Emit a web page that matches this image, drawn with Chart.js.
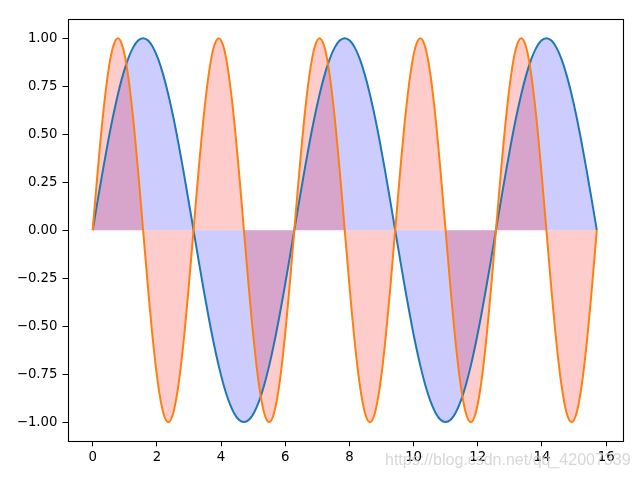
<!DOCTYPE html>
<html>
<head>
<meta charset="utf-8">
<script src="https://cdn.jsdelivr.net/npm/chart.js@4/dist/chart.umd.min.js"></script>
<style>
html,body{margin:0;padding:0;background:#fff;}
canvas{display:block;}
</style>
</head>
<body>
<canvas id="c" width="640" height="480"></canvas>
<script>
// x positions (0 .. 5π, step π/20)
const xs = [0,0.157,0.314,0.471,0.628,0.785,0.942,1.100,1.257,1.414,1.571,1.728,1.885,2.042,2.199,2.356,2.513,2.670,2.827,2.985,
3.142,3.299,3.456,3.613,3.770,3.927,4.084,4.241,4.398,4.555,4.712,4.869,5.027,5.184,5.341,5.498,5.655,5.812,5.969,6.126,
6.283,6.440,6.597,6.754,6.912,7.069,7.226,7.383,7.540,7.697,7.854,8.011,8.168,8.325,8.482,8.639,8.796,8.954,9.111,9.268,
9.425,9.582,9.739,9.896,10.053,10.210,10.367,10.524,10.681,10.838,10.996,11.153,11.310,11.467,11.624,11.781,11.938,12.095,12.252,12.409,
12.566,12.723,12.881,13.038,13.195,13.352,13.509,13.666,13.823,13.980,14.137,14.294,14.451,14.608,14.765,14.923,15.080,15.237,15.394,15.551,
15.708];
// blue curve values
const ySin = [0,
0.156,0.309,0.454,0.588,0.707,0.809,0.891,0.951,0.988,1,0.988,0.951,0.891,0.809,0.707,0.588,0.454,0.309,0.156,0,
-0.156,-0.309,-0.454,-0.588,-0.707,-0.809,-0.891,-0.951,-0.988,-1,-0.988,-0.951,-0.891,-0.809,-0.707,-0.588,-0.454,-0.309,-0.156,0,
0.156,0.309,0.454,0.588,0.707,0.809,0.891,0.951,0.988,1,0.988,0.951,0.891,0.809,0.707,0.588,0.454,0.309,0.156,0,
-0.156,-0.309,-0.454,-0.588,-0.707,-0.809,-0.891,-0.951,-0.988,-1,-0.988,-0.951,-0.891,-0.809,-0.707,-0.588,-0.454,-0.309,-0.156,0,
0.156,0.309,0.454,0.588,0.707,0.809,0.891,0.951,0.988,1,0.988,0.951,0.891,0.809,0.707,0.588,0.454,0.309,0.156,0];
// orange curve values
const ySin2 = [0,
0.309,0.588,0.809,0.951,1,0.951,0.809,0.588,0.309,0,-0.309,-0.588,-0.809,-0.951,-1,-0.951,-0.809,-0.588,-0.309,0,
0.309,0.588,0.809,0.951,1,0.951,0.809,0.588,0.309,0,-0.309,-0.588,-0.809,-0.951,-1,-0.951,-0.809,-0.588,-0.309,0,
0.309,0.588,0.809,0.951,1,0.951,0.809,0.588,0.309,0,-0.309,-0.588,-0.809,-0.951,-1,-0.951,-0.809,-0.588,-0.309,0,
0.309,0.588,0.809,0.951,1,0.951,0.809,0.588,0.309,0,-0.309,-0.588,-0.809,-0.951,-1,-0.951,-0.809,-0.588,-0.309,0,
0.309,0.588,0.809,0.951,1,0.951,0.809,0.588,0.309,0,-0.309,-0.588,-0.809,-0.951,-1,-0.951,-0.809,-0.588,-0.309,0];
const xTicks = [0,2,4,6,8,10,12,14,16];
const yTicks = [-1,-0.75,-0.5,-0.25,0,0.25,0.5,0.75,1];
const watermark = "https://blog.csdn.net/qq_42007339";

const FONT = {family: '"DejaVu Sans"', size: 13.3};

const frame = {
  id: 'frame',
  afterDatasetsDraw(chart) {
    const a = chart.chartArea, ctx = chart.ctx;
    ctx.save();
    ctx.strokeStyle = '#000';
    ctx.lineWidth = 1.1;
    ctx.strokeRect(Math.round(a.left)+0.5, Math.round(a.top)+0.5, Math.round(a.right-a.left), Math.round(a.bottom-a.top));
    ctx.restore();
  },
  afterDraw(chart) {
    const ctx = chart.ctx;
    ctx.save();
    ctx.font = '16px "Liberation Sans", Arial, sans-serif';
    ctx.fillStyle = 'rgba(205,205,205,0.8)';
    ctx.textAlign = 'left';
    ctx.textBaseline = 'alphabetic';
    ctx.fillText(watermark, 385, 465);
    ctx.restore();
  }
};

new Chart(document.getElementById('c'), {
  type: 'line',
  data: {
    datasets: [
      {
        data: xs.map((x,i)=>({x:x, y:ySin2[i]})),
        borderColor: '#ff7f0e',
        backgroundColor: 'rgba(255,0,0,0.2)',
        fill: 'origin',
        borderWidth: 2,
        pointRadius: 0,
        cubicInterpolationMode: 'monotone'
      },
      {
        data: xs.map((x,i)=>({x:x, y:ySin[i]})),
        borderColor: '#1f77b4',
        backgroundColor: 'rgba(0,0,255,0.2)',
        fill: 'origin',
        borderWidth: 2,
        pointRadius: 0,
        cubicInterpolationMode: 'monotone'
      }
    ]
  },
  options: {
    responsive: false,
    devicePixelRatio: 1,
    animation: false,
    layout: {padding: {top: 19, right: 18, left: 0, bottom: 0}},
    plugins: {
      legend: {display: false},
      tooltip: {enabled: false},
      filler: {drawTime: 'beforeDatasetsDraw'}
    },
    scales: {
      x: {
        type: 'linear',
        min: -0.785, max: 16.493,
        afterBuildTicks: s => { s.ticks = xTicks.map(v=>({value:v})); },
        afterFit: s => { s.height = 38.7; },
        grid: {display: true, drawOnChartArea: false, drawTicks: true, tickLength: 5, color: '#000', lineWidth: 1},
        border: {display: false},
        ticks: {font: FONT, color: '#000', padding: 3, maxRotation: 0, autoSkip: false,
          callback: v => String(v)}
      },
      y: {
        type: 'linear',
        min: -1.1, max: 1.1,
        afterBuildTicks: s => { s.ticks = yTicks.map(v=>({value:v})); },
        afterFit: s => { s.width = 67.5; },
        grid: {display: true, drawOnChartArea: false, drawTicks: true, tickLength: 5, color: '#000', lineWidth: 1},
        border: {display: false},
        ticks: {font: FONT, color: '#000', padding: 5, autoSkip: false,
          callback: v => v.toFixed(2).replace('-', '\u2212')}
      }
    }
  },
  plugins: [frame]
});
</script>
</body>
</html>
